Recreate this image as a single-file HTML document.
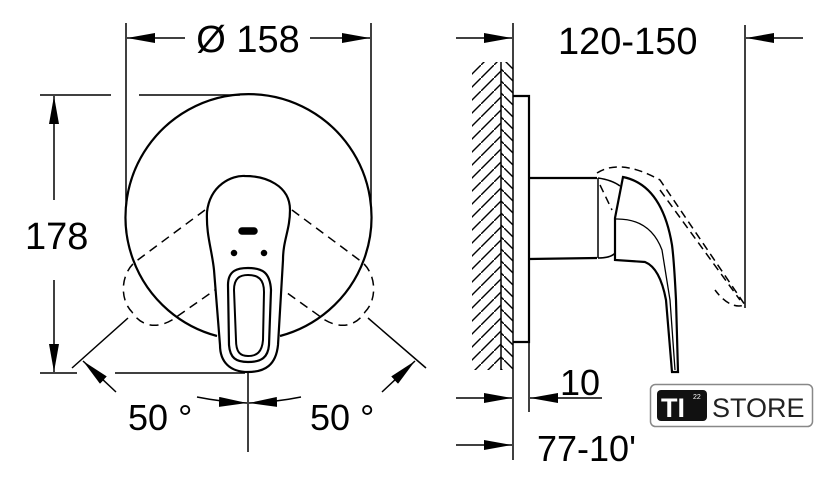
<!DOCTYPE html>
<html><head><meta charset="utf-8"><style>
html,body{margin:0;padding:0;background:#fff;width:824px;height:488px;overflow:hidden}
text{font-family:"Liberation Sans",Arial,sans-serif;fill:#000}
</style></head><body>
<svg width="824" height="488" viewBox="0 0 824 488" xmlns="http://www.w3.org/2000/svg">
<defs>
<marker id="a" viewBox="0 0 28 10" refX="28" refY="5" markerWidth="28" markerHeight="10" markerUnits="userSpaceOnUse" orient="auto"><path d="M0,0 L28,5 L0,10 Z" fill="#000"/></marker>
<pattern id="h" width="13" height="13" patternUnits="userSpaceOnUse"><path d="M-2,15 L15,-2" stroke="#000" stroke-width="1.4"/></pattern>
<pattern id="h2" width="12" height="12" patternUnits="userSpaceOnUse"><path d="M-2,-2 L14,14" stroke="#000" stroke-width="1.4"/></pattern>
</defs>
<g stroke="#000" fill="none" stroke-width="1.5">
<!-- LEFT VIEW -->
<line x1="126" y1="23" x2="126" y2="205"/>
<line x1="371" y1="23" x2="371" y2="205"/>
<line x1="185" y1="38" x2="127" y2="38" marker-end="url(#a)"/>
<line x1="310" y1="38" x2="370" y2="38" marker-end="url(#a)"/>
<line x1="40" y1="95" x2="111" y2="95"/>
<line x1="139" y1="95" x2="240" y2="95"/>
<line x1="40" y1="373" x2="77" y2="373"/>
<line x1="115" y1="373" x2="245" y2="373"/>
<line x1="54" y1="200" x2="54" y2="96" marker-end="url(#a)"/>
<line x1="54" y1="280" x2="54" y2="372" marker-end="url(#a)"/>
<path d="M217,336 A123,123 0 1 1 280,336" stroke-width="2.2"/>
<!-- lever -->
<path d="M207,212 C210,185 232,175 245,176 C265,176 290,185 290,210 C290,230 283,240 283,260 L278,345 C276,365 265,372 248,372 C230,372 220,362 220,345 L214,270 C212,250 206,235 207,212 Z" fill="#fff" stroke-width="2.2"/>
<path d="M228,285 C228,270 238,268 248,268 C262,268 270,272 271,290 L269,345 C268,357 262,362 248,362 C236,362 230,358 229,345 Z" stroke-width="2.2"/>
<path d="M234,290 C234,278 240,275 248,275 C258,275 264,279 264,292 L263,340 C262,352 257,356 248,356 C240,356 236,352 236,340 Z" stroke-width="2"/>
<rect x="239" y="228" width="18" height="6" rx="3" fill="#000"/>
<circle cx="234" cy="253" r="2.5" fill="#000"/>
<circle cx="264" cy="253" r="2.5" fill="#000"/>
<g stroke-dasharray="9,6">
<path d="M205,210 L135,262 C120,275 120,300 132,312 C140,325 155,330 172,320 L215,290"/>
<path d="M292,210 L362,262 C377,275 377,300 365,312 C357,325 342,330 325,320 L283,290"/>
</g>
<line x1="248" y1="373" x2="248" y2="452"/>
<line x1="128" y1="318" x2="72" y2="368"/>
<line x1="116" y1="392" x2="83" y2="361" marker-end="url(#a)"/>
<line x1="368" y1="318" x2="426" y2="368"/>
<line x1="382" y1="392" x2="415" y2="361" marker-end="url(#a)"/>
<path d="M197,397 Q222,402 247,403" marker-end="url(#a)"/>
<path d="M301,397 Q276,402 249,403" marker-end="url(#a)"/>
<!-- RIGHT VIEW -->
<line x1="513" y1="23" x2="513" y2="460"/>
<rect x="472" y="62" width="29" height="308" fill="url(#h)" stroke="none"/>
<rect x="501" y="62" width="12" height="308" fill="url(#h2)" stroke="none"/>
<line x1="501" y1="62" x2="501" y2="370"/>
<path d="M513,96 L529,96 L529,342 L513,342" stroke-width="2.2"/>
<line x1="529" y1="342" x2="529" y2="412"/>
<path d="M529,178 L597,178 M529,259 L597,258" stroke-width="2.2"/>
<line x1="598" y1="178" x2="598" y2="258"/>
<path d="M598,178 Q612,180 620,186 M598,258 Q612,258 616,252" stroke-width="1.6"/>
<path d="M623,177 L615,218 L615,260 L645,262 Q660,268 666,300 L672,372 L678,372 L676,300 Q674,260 672,245 Q662,185 623,177 Z" fill="#fff" stroke-width="2.2"/>
<path d="M615,219 Q650,218 662,250 L670,300 L675,370" stroke-width="1.3"/>
<g stroke-dasharray="8,5">
<path d="M597,173 Q620,158 660,180 L745,305 Q730,310 715,290"/>
<path d="M660,190 L740,300"/>
<path d="M600,185 L612,210"/>
</g>
<line x1="456" y1="38" x2="512" y2="38" marker-end="url(#a)"/>
<line x1="745" y1="25" x2="745" y2="308"/>
<line x1="803" y1="38" x2="746" y2="38" marker-end="url(#a)"/>
<line x1="456" y1="398" x2="512" y2="398" marker-end="url(#a)"/>
<line x1="602" y1="398" x2="530" y2="398" marker-end="url(#a)"/>
<line x1="456" y1="445" x2="512" y2="445" marker-end="url(#a)"/>
</g>
<text x="248" y="52" font-size="38" text-anchor="middle">Ø 158</text>
<text x="25" y="249" font-size="38">178</text>
<text x="128" y="430" font-size="36">50 °</text>
<text x="310" y="430" font-size="36">50 °</text>
<text x="558" y="54" font-size="38">120-150</text>
<text x="560" y="395" font-size="36">10</text>
<text x="537" y="461" font-size="36">77-10'</text>
<rect x="650.5" y="384.5" width="162" height="42" rx="5" fill="#fff" stroke="#888" stroke-width="1.5"/>
<rect x="657" y="390" width="50" height="31" rx="4" fill="#111"/>
<text x="661" y="417" font-size="27" font-weight="bold" style="fill:#fff">TI</text>
<text x="693" y="399" font-size="7" style="fill:#fff">22</text>
<text x="712" y="417" font-size="27" style="fill:#222">STORE</text>
</svg>
</body></html>
